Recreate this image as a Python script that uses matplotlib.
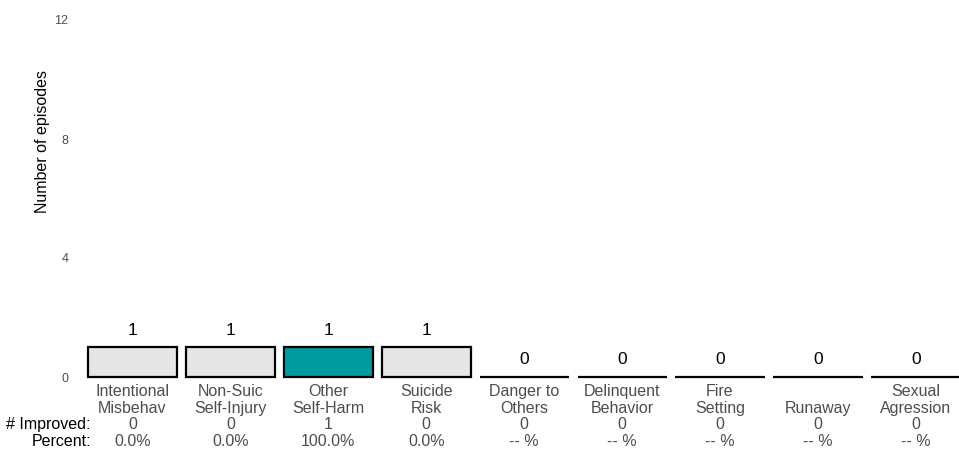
import numpy as np
import matplotlib.pyplot as plt

plt.rcParams['font.family'] = ['Liberation Sans', 'DejaVu Sans']

categories = ['Intentional\nMisbehav', 'Non-Suic\nSelf-Injury', 'Other\nSelf-Harm',
              'Suicide\nRisk', 'Danger to\nOthers', 'Delinquent\nBehavior',
              'Fire\nSetting', '\nRunaway', 'Sexual\nAgression']
episodes = [1, 1, 1, 1, 0, 0, 0, 0, 0]
improved = [0, 0, 1, 0, 0, 0, 0, 0, 0]
highlight = [False, False, True, False, False, False, False, False, False]

GREY = '#e6e6e6'
TEAL = '#009b9e'

fig = plt.figure(figsize=(9.59, 4.53), dpi=100)
ax = fig.add_axes([83.5 / 959, (453 - 377) / 453, (959 - 83.5) / 959, 357 / 453])

x = np.arange(len(categories))
colors = [TEAL if h else GREY for h in highlight]
bars = ax.bar(x, episodes, width=0.91, color=colors, edgecolor='black', linewidth=1.6)
for b in bars:
    b.set_clip_on(False)

for xi, v in zip(x, episodes):
    ax.annotate(str(v), (xi, v), xytext=(0, 7), textcoords='offset points',
                ha='center', va='bottom', fontsize=12.5, color='black')

ax.set_ylim(0, 12)
ax.set_xlim(-0.5, 8.44)
ax.set_yticks([0, 4, 8, 12])
ax.tick_params(axis='y', length=0, pad=11, labelsize=9, labelcolor='#4d4d4d')
ax.set_xticks([])
for s in ax.spines.values():
    s.set_visible(False)
ax.set_ylabel('Number of episodes', fontsize=11.5)
ax.yaxis.set_label_coords(-0.038, 0.66)

tr = ax.get_xaxis_transform()
for xi, cat, v, imp in zip(x, categories, episodes, improved):
    ax.text(xi, -0.02, cat, transform=tr, ha='center', va='top',
            fontsize=11.5, color='#4d4d4d', linespacing=1.15)
    ax.text(xi, -0.132, str(imp), transform=tr, ha='center', va='center',
            fontsize=11.5, color='#4d4d4d')
    pct = '%.1f%%' % (100.0 * imp / v) if v > 0 else '-- %'
    ax.text(xi, -0.182, pct, transform=tr, ha='center', va='center',
            fontsize=11.5, color='#4d4d4d')

fig.text(91 / 959, 1 - 424 / 453, '# Improved:', ha='right', va='center', fontsize=11.5)
fig.text(91 / 959, 1 - 442 / 453, 'Percent:', ha='right', va='center', fontsize=11.5)

fig.savefig('out.png', dpi=100)
